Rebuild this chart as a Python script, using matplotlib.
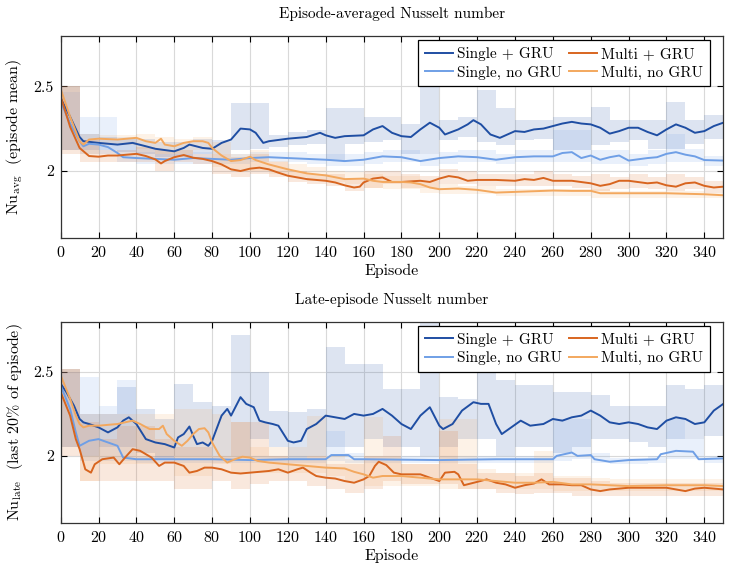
import matplotlib
matplotlib.use("Agg")
import matplotlib.pyplot as plt
from matplotlib.ticker import FuncFormatter

# =========================================
# STYLE
# =========================================

plt.rcParams["font.family"] = ["cmr10", "DejaVu Serif"]
plt.rcParams["mathtext.fontset"] = "cm"
plt.rcParams["axes.formatter.use_mathtext"] = True
plt.rcParams["font.size"] = 11

c_sg = "#1f4ea3"   # Single + GRU
c_sn = "#6f9fe6"   # Single, no GRU
c_mg = "#d8651f"   # Multi + GRU
c_mn = "#f3a85e"   # Multi, no GRU

# column-wise order for a 2-column legend
labels = ["Single + GRU", "Single, no GRU", "Multi + GRU", "Multi, no GRU"]

# =========================================
# DATA - TOP PANEL (episode mean)
# =========================================

top_sg_ep = [0, 5, 10, 12, 20, 30, 38, 45, 50, 60, 65, 68, 75, 80, 85, 90, 95, 100, 103, 107,
             110, 120, 130, 137, 140, 145, 150, 160, 165, 170, 175, 180, 185, 190, 195, 200, 203, 210, 215, 218,
             222, 227, 232, 240, 245, 250, 255, 260, 265, 270, 275, 280, 285, 290, 295, 300, 305, 310, 315, 320,
             325, 330, 335, 340, 345, 350]
top_sg = [2.43, 2.32, 2.20, 2.175, 2.165, 2.155, 2.165, 2.145, 2.13, 2.115, 2.135, 2.155, 2.135, 2.13, 2.165, 2.185, 2.25, 2.245, 2.225, 2.165,
          2.175, 2.19, 2.20, 2.225, 2.21, 2.195, 2.205, 2.21, 2.245, 2.265, 2.225, 2.205, 2.20, 2.245, 2.285, 2.255, 2.215, 2.245, 2.275, 2.30,
          2.275, 2.215, 2.195, 2.235, 2.23, 2.245, 2.25, 2.265, 2.28, 2.29, 2.28, 2.275, 2.255, 2.22, 2.235, 2.255, 2.255, 2.23, 2.21, 2.245,
          2.275, 2.255, 2.225, 2.235, 2.265, 2.285]

top_sn_ep = [0, 5, 10, 12, 15, 20, 25, 30, 33, 40, 50, 60, 70, 80, 90, 100, 110, 120, 130, 140,
             150, 160, 165, 170, 180, 190, 200, 210, 220, 230, 240, 250, 260, 265, 270, 275, 280, 285, 290, 295,
             300, 310, 315, 320, 325, 330, 335, 340, 350]
top_sn = [2.41, 2.28, 2.175, 2.145, 2.16, 2.155, 2.14, 2.105, 2.08, 2.075, 2.07, 2.065, 2.075, 2.07, 2.065, 2.075, 2.08, 2.075, 2.07, 2.065,
          2.057, 2.065, 2.075, 2.085, 2.08, 2.057, 2.075, 2.085, 2.08, 2.065, 2.08, 2.085, 2.085, 2.105, 2.11, 2.075, 2.09, 2.065, 2.08, 2.09,
          2.06, 2.075, 2.08, 2.10, 2.11, 2.095, 2.085, 2.063, 2.06]

top_mg_ep = [0, 5, 8, 10, 15, 20, 25, 30, 35, 40, 45, 50, 53, 55, 60, 65, 70, 75, 80, 85,
             90, 95, 100, 105, 110, 115, 120, 130, 140, 145, 150, 155, 158, 160, 165, 170, 175, 180, 190, 195,
             200, 205, 210, 215, 220, 230, 240, 245, 250, 255, 260, 270, 280, 285, 290, 295, 300, 310, 315, 320,
             325, 330, 335, 340, 345, 350]
top_mg = [2.44, 2.26, 2.185, 2.135, 2.087, 2.083, 2.09, 2.09, 2.095, 2.10, 2.087, 2.067, 2.043, 2.057, 2.08, 2.093, 2.077, 2.07, 2.057, 2.037,
          2.008, 1.998, 2.012, 2.018, 2.008, 1.988, 1.97, 1.95, 1.94, 1.93, 1.913, 1.90, 1.905, 1.93, 1.953, 1.96, 1.933, 1.933, 1.94, 1.933,
          1.953, 1.968, 1.96, 1.94, 1.945, 1.945, 1.94, 1.95, 1.945, 1.957, 1.94, 1.94, 1.925, 1.91, 1.92, 1.94, 1.94, 1.925, 1.93, 1.913,
          1.905, 1.925, 1.93, 1.91, 1.90, 1.905]

top_mn_ep = [0, 5, 10, 12, 15, 20, 30, 40, 45, 50, 53, 55, 60, 65, 70, 75, 78, 80, 85, 90,
             95, 100, 103, 110, 120, 130, 140, 150, 160, 165, 170, 180, 185, 190, 195, 200, 210, 220, 230, 240,
             250, 260, 270, 280, 285, 300, 320, 340, 350]
top_mn = [2.485, 2.32, 2.175, 2.155, 2.185, 2.19, 2.185, 2.195, 2.175, 2.165, 2.19, 2.155, 2.145, 2.165, 2.175, 2.175, 2.165, 2.135, 2.09, 2.057,
          2.063, 2.083, 2.063, 2.037, 2.008, 1.984, 1.972, 1.95, 1.953, 1.94, 1.933, 1.933, 1.93, 1.92, 1.90, 1.89, 1.894, 1.886, 1.87, 1.874,
          1.878, 1.882, 1.88, 1.88, 1.866, 1.866, 1.866, 1.86, 1.854]

# min/max bands, one value per 10-episode block
band_ep = list(range(0, 351, 10))

top_sg_lo = [2.12, 2.12, 2.12, 2.11, 2.10, 2.08, 2.08, 2.10, 2.10, 2.12, 2.13, 2.14, 2.15, 2.16, 2.06, 2.16, 2.17, 2.18,
             2.10, 2.10, 2.18, 2.20, 2.17, 2.15, 2.18, 2.19, 2.12, 2.12, 2.15, 2.17, 2.18, 2.13, 2.13, 2.16, 2.19, 2.19]
top_sg_hi = [2.50, 2.22, 2.20, 2.19, 2.19, 2.17, 2.17, 2.19, 2.18, 2.40, 2.40, 2.21, 2.23, 2.24, 2.37, 2.37, 2.32, 2.32,
             2.28, 2.51, 2.30, 2.32, 2.48, 2.37, 2.30, 2.30, 2.32, 2.32, 2.38, 2.30, 2.30, 2.30, 2.41, 2.30, 2.33, 2.33]
top_sn_lo = [2.12, 2.10, 2.10, 2.05, 2.04, 2.04, 2.04, 2.04, 2.04, 2.04, 2.05, 2.05, 2.05, 2.04, 2.03, 2.03, 2.04, 2.05,
             2.05, 2.03, 2.04, 2.05, 2.05, 2.04, 2.05, 2.05, 2.05, 2.05, 2.04, 2.04, 2.03, 2.04, 2.05, 2.05, 2.03, 2.03]
top_sn_hi = [2.47, 2.32, 2.32, 2.20, 2.11, 2.10, 2.10, 2.11, 2.10, 2.10, 2.11, 2.11, 2.11, 2.10, 2.10, 2.10, 2.11, 2.12,
             2.12, 2.10, 2.11, 2.12, 2.12, 2.10, 2.12, 2.12, 2.24, 2.24, 2.12, 2.12, 2.10, 2.12, 2.22, 2.13, 2.09, 2.09]
top_mg_lo = [2.10, 2.05, 2.05, 2.05, 2.05, 2.00, 2.05, 2.04, 1.98, 1.96, 1.98, 1.96, 1.93, 1.92, 1.91, 1.88, 1.90, 1.92,
             1.90, 1.90, 1.92, 1.92, 1.91, 1.91, 1.91, 1.91, 1.91, 1.90, 1.88, 1.89, 1.90, 1.89, 1.88, 1.89, 1.87, 1.87]
top_mg_hi = [2.50, 2.18, 2.12, 2.12, 2.14, 2.12, 2.12, 2.10, 2.10, 2.08, 2.10, 2.05, 2.00, 1.98, 1.98, 1.95, 2.00, 2.00,
             1.98, 1.97, 2.01, 2.00, 1.98, 1.98, 1.98, 2.00, 1.98, 1.97, 1.98, 1.96, 1.98, 1.96, 1.98, 1.96, 1.94, 1.94]
top_mn_lo = [2.12, 2.10, 2.15, 2.15, 2.13, 2.10, 2.10, 2.12, 2.02, 2.00, 2.00, 1.98, 1.96, 1.94, 1.93, 1.92, 1.90, 1.89,
             1.89, 1.87, 1.86, 1.86, 1.86, 1.85, 1.85, 1.85, 1.85, 1.85, 1.84, 1.84, 1.84, 1.84, 1.84, 1.84, 1.84, 1.84]
top_mn_hi = [2.50, 2.22, 2.21, 2.21, 2.22, 2.20, 2.19, 2.20, 2.17, 2.10, 2.12, 2.06, 2.04, 2.02, 2.00, 1.99, 1.98, 1.97,
             1.97, 1.94, 1.92, 1.91, 1.91, 1.89, 1.89, 1.89, 1.89, 1.89, 1.89, 1.88, 1.88, 1.88, 1.88, 1.88, 1.87, 1.87]

# =========================================
# DATA - BOTTOM PANEL (last 20% of episode)
# =========================================

bot_sg_ep = [0, 3, 7, 10, 12, 15, 20, 25, 30, 33, 36, 40, 45, 50, 55, 60, 62, 65, 68, 70,
             72, 75, 78, 80, 85, 88, 90, 95, 98, 102, 105, 108, 112, 115, 120, 123, 127, 130, 135, 138,
             140, 145, 150, 155, 160, 165, 170, 175, 180, 185, 190, 195, 200, 202, 207, 212, 218, 222, 226, 230,
             233, 238, 243, 248, 255, 260, 265, 270, 275, 280, 285, 290, 295, 300, 305, 310, 315, 320, 325, 330,
             335, 340, 345, 350]
bot_sg = [2.43, 2.38, 2.30, 2.22, 2.20, 2.19, 2.17, 2.14, 2.17, 2.21, 2.23, 2.19, 2.10, 2.08, 2.07, 2.05, 2.11, 2.13, 2.175, 2.12,
          2.07, 2.08, 2.06, 2.09, 2.24, 2.28, 2.24, 2.35, 2.31, 2.29, 2.21, 2.20, 2.19, 2.18, 2.09, 2.08, 2.09, 2.16, 2.19, 2.22,
          2.24, 2.23, 2.22, 2.25, 2.24, 2.25, 2.28, 2.24, 2.19, 2.16, 2.24, 2.29, 2.18, 2.16, 2.19, 2.27, 2.32, 2.31, 2.31, 2.19,
          2.13, 2.17, 2.21, 2.18, 2.19, 2.22, 2.21, 2.23, 2.24, 2.27, 2.24, 2.20, 2.19, 2.20, 2.19, 2.17, 2.16, 2.21, 2.23, 2.22,
          2.19, 2.20, 2.27, 2.31]

bot_sn_ep = [0, 5, 8, 10, 15, 20, 25, 30, 33, 40, 60, 80, 100, 120, 140, 143, 152, 155, 160, 200,
             230, 260, 262, 270, 273, 280, 282, 290, 300, 315, 317, 325, 334, 337, 350]
bot_sn = [2.42, 2.28, 2.14, 2.06, 2.09, 2.10, 2.08, 2.06, 1.99, 1.98, 1.98, 1.98, 1.975, 1.98, 1.98, 2.005, 2.005, 1.98, 1.98, 1.975,
          1.98, 1.98, 2.00, 2.02, 2.00, 2.005, 1.98, 1.965, 1.975, 1.98, 2.01, 2.03, 2.025, 1.98, 1.985]

bot_mg_ep = [0, 5, 8, 10, 13, 16, 18, 22, 28, 31, 34, 38, 42, 45, 48, 52, 55, 60, 65, 68,
             72, 76, 80, 85, 90, 95, 100, 110, 115, 120, 125, 128, 132, 135, 140, 145, 150, 155, 160, 163,
             166, 168, 172, 176, 180, 190, 195, 200, 203, 208, 210, 213, 220, 225, 230, 235, 240, 245, 250, 254,
             258, 265, 270, 275, 280, 285, 290, 300, 310, 320, 325, 330, 335, 340, 350]
bot_mg = [2.38, 2.24, 2.10, 2.04, 1.92, 1.90, 1.95, 1.98, 1.99, 1.95, 1.99, 2.04, 2.03, 2.01, 1.99, 1.94, 1.96, 1.96, 1.94, 1.90,
          1.91, 1.93, 1.93, 1.92, 1.90, 1.895, 1.90, 1.91, 1.92, 1.90, 1.92, 1.93, 1.90, 1.88, 1.87, 1.865, 1.85, 1.84, 1.86, 1.88,
          1.94, 1.965, 1.945, 1.90, 1.89, 1.89, 1.87, 1.85, 1.90, 1.905, 1.89, 1.825, 1.845, 1.86, 1.84, 1.83, 1.81, 1.825, 1.835, 1.86,
          1.83, 1.83, 1.825, 1.825, 1.80, 1.79, 1.80, 1.81, 1.81, 1.81, 1.80, 1.79, 1.805, 1.81, 1.80]

bot_mn_ep = [0, 5, 8, 10, 12, 15, 20, 30, 38, 42, 47, 52, 54, 56, 60, 64, 67, 70, 73, 76,
             78, 80, 84, 88, 92, 96, 100, 104, 110, 120, 130, 140, 150, 155, 160, 165, 170, 180, 190, 200,
             210, 220, 230, 240, 250, 260, 270, 280, 290, 300, 320, 340, 350]
bot_mn = [2.48, 2.34, 2.24, 2.19, 2.17, 2.18, 2.18, 2.19, 2.21, 2.19, 2.16, 2.16, 2.18, 2.13, 2.09, 2.06, 2.09, 2.13, 2.16, 2.165,
          2.14, 2.08, 2.00, 1.96, 1.98, 1.995, 1.99, 1.97, 1.96, 1.95, 1.94, 1.93, 1.925, 1.905, 1.89, 1.87, 1.88, 1.88, 1.87, 1.86,
          1.86, 1.86, 1.85, 1.84, 1.84, 1.845, 1.83, 1.83, 1.825, 1.82, 1.825, 1.825, 1.82]

bot_sg_lo = [2.05, 2.00, 2.05, 2.05, 2.02, 1.98, 2.00, 2.00, 2.00, 2.00, 2.10, 2.05, 1.98, 2.00, 2.05, 2.05, 2.10, 2.05,
             2.05, 2.00, 2.05, 2.10, 2.10, 2.00, 2.05, 2.05, 2.02, 2.05, 2.10, 2.10, 2.08, 2.05, 2.10, 2.10, 2.12, 2.12]
bot_sg_hi = [2.52, 2.25, 2.25, 2.41, 2.28, 2.22, 2.43, 2.32, 2.30, 2.72, 2.50, 2.27, 2.26, 2.28, 2.65, 2.55, 2.55, 2.40,
             2.40, 2.85, 2.35, 2.34, 2.68, 2.45, 2.42, 2.42, 2.38, 2.38, 2.36, 2.30, 2.30, 2.30, 2.42, 2.40, 2.42, 2.42]
bot_sn_lo = [2.05, 1.97, 1.97, 1.97, 1.96, 1.96, 1.96, 1.96, 1.96, 1.96, 1.96, 1.96, 1.96, 1.96, 1.97, 1.96, 1.96, 1.96,
             1.96, 1.96, 1.96, 1.96, 1.96, 1.96, 1.96, 1.96, 1.97, 1.98, 1.96, 1.95, 1.95, 1.96, 1.98, 1.98, 1.96, 1.96]
bot_sn_hi = [2.50, 2.47, 2.30, 2.45, 2.00, 2.00, 2.00, 2.00, 2.00, 2.00, 2.00, 2.00, 2.00, 2.00, 2.15, 2.02, 2.00, 2.00,
             2.00, 2.00, 2.00, 2.00, 2.00, 2.00, 2.00, 2.00, 2.22, 2.22, 2.02, 1.99, 1.99, 2.00, 2.22, 2.10, 2.00, 2.00]
bot_mg_lo = [2.00, 1.85, 1.85, 1.85, 1.85, 1.85, 1.80, 1.80, 1.85, 1.80, 1.83, 1.85, 1.85, 1.82, 1.80, 1.78, 1.80, 1.85,
             1.83, 1.83, 1.83, 1.80, 1.80, 1.78, 1.77, 1.78, 1.78, 1.76, 1.76, 1.76, 1.76, 1.76, 1.76, 1.76, 1.76, 1.76]
bot_mg_hi = [2.52, 2.20, 2.10, 2.18, 2.18, 2.10, 2.05, 2.05, 2.00, 2.20, 2.20, 2.00, 1.98, 2.00, 1.95, 1.95, 2.00, 2.12,
             1.95, 1.95, 2.15, 1.95, 1.90, 1.90, 1.88, 1.90, 1.87, 1.87, 1.85, 1.84, 1.84, 1.84, 1.84, 1.84, 1.84, 1.84]
bot_mn_lo = [2.05, 1.85, 1.95, 1.95, 1.95, 2.00, 1.88, 1.88, 1.95, 1.90, 1.90, 1.90, 1.90, 1.90, 1.88, 1.85, 1.82, 1.82,
             1.82, 1.82, 1.80, 1.80, 1.80, 1.80, 1.80, 1.80, 1.79, 1.79, 1.79, 1.79, 1.79, 1.79, 1.79, 1.79, 1.79, 1.79]
bot_mn_hi = [2.52, 2.25, 2.25, 2.25, 2.25, 2.25, 2.28, 2.28, 2.25, 2.20, 2.05, 2.05, 2.05, 2.24, 2.00, 1.98, 2.23, 2.00,
             1.95, 1.95, 2.22, 2.22, 1.92, 1.90, 1.90, 2.03, 1.88, 1.88, 1.87, 1.86, 1.86, 1.86, 1.86, 1.86, 1.86, 1.86]

# =========================================
# PLOT
# =========================================

fig = plt.figure(figsize=(7.3, 5.73), dpi=100)
ax_top = fig.add_axes([0.0831, 0.5846, 0.9077, 0.3526])
ax_bot = fig.add_axes([0.0831, 0.0873, 0.9077, 0.3513])

panels = [
    (ax_top, "Episode-averaged Nusselt number", r"Nu$_{\mathrm{avg}}$  (episode mean)",
     [(top_sg_ep, top_sg, top_sg_lo, top_sg_hi, c_sg),
      (top_sn_ep, top_sn, top_sn_lo, top_sn_hi, c_sn),
      (top_mg_ep, top_mg, top_mg_lo, top_mg_hi, c_mg),
      (top_mn_ep, top_mn, top_mn_lo, top_mn_hi, c_mn)]),
    (ax_bot, "Late-episode Nusselt number", r"Nu$_{\mathrm{late}}$  (last 20% of episode)",
     [(bot_sg_ep, bot_sg, bot_sg_lo, bot_sg_hi, c_sg),
      (bot_sn_ep, bot_sn, bot_sn_lo, bot_sn_hi, c_sn),
      (bot_mg_ep, bot_mg, bot_mg_lo, bot_mg_hi, c_mg),
      (bot_mn_ep, bot_mn, bot_mn_lo, bot_mn_hi, c_mn)]),
]

for ax, title, ylabel, series in panels:
    for ep, val, lo, hi, col in series:
        ax.fill_between(band_ep, lo, hi, step="post", color=col, alpha=0.15, linewidth=0)
    handles = []
    for ep, val, lo, hi, col in series:
        ln, = ax.plot(ep, val, color=col, linewidth=1.4)
        handles.append(ln)

    ax.set_xlim(0, 350)
    ax.set_ylim(1.6, 2.8)
    ax.set_xticks(range(0, 341, 20))
    ax.set_yticks([2, 2.5])
    ax.yaxis.set_major_formatter(FuncFormatter(lambda v, p: f"{v:g}"))
    ax.grid(True, color="#d9d9d9", linewidth=0.8)
    ax.set_axisbelow(True)
    ax.tick_params(direction="in", top=True, right=True, length=4, labelsize=11.5, pad=5)
    for s in ax.spines.values():
        s.set_color("#333333")
        s.set_linewidth(0.9)
    ax.set_title(title, fontsize=11, pad=13)
    ax.set_ylabel(ylabel, fontsize=11.5, labelpad=6)
    ax.set_xlabel("Episode", fontsize=11.5, labelpad=3)

    leg = ax.legend(handles, labels,
                    ncol=2, loc="upper right", bbox_to_anchor=(0.98, 0.98), borderaxespad=0,
                    fontsize=11, frameon=True, fancybox=False, framealpha=1, edgecolor="black",
                    borderpad=0.45, labelspacing=0.3, handlelength=1.8, handletextpad=0.3,
                    columnspacing=0.45)
    leg.get_frame().set_linewidth(0.9)

fig.savefig("out.png", dpi=100)
